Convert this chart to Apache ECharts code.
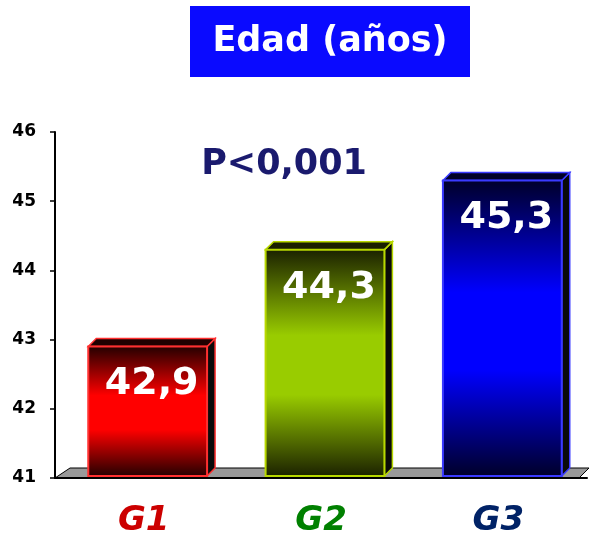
<!DOCTYPE html>
<html><head><meta charset="utf-8">
<script src="https://cdn.jsdelivr.net/npm/echarts@6/dist/echarts.min.js"></script>
<style>html,body{margin:0;padding:0;background:#fff}#c{width:596px;height:545px}</style>
</head><body><div id="c"></div>
<script>
var categories = ['G1', 'G2', 'G3'];
var values = [42.9, 44.3, 45.3];
var valueLabels = ['42,9', '44,3', '45,3'];
var yTicks = [41, 42, 43, 44, 45, 46];
var titleText = 'Edad (años)';
var pText = 'P<0,001';

var faceColors = [
  {dark: '#200000', bright: '#ff0000', edge: '#ff3030'},
  {dark: '#1a2000', bright: '#99cc00', edge: '#b8d800'},
  {dark: '#000028', bright: '#0000ff', edge: '#3a3aff'}
];
var catColors = ['#cc0000', '#008000', '#002266'];
var depth = 8;
var yMin = yTicks[0];

var chart = echarts.init(document.getElementById('c'));
var option = {
  animation: false,
  grid: {left: 55, right: 9, top: 132, bottom: 67},
  xAxis: {
    type: 'category', data: categories,
    axisLine: {show: true, lineStyle: {color: '#000', width: 2}},
    axisTick: {show: false},
    axisLabel: {
      margin: 26,
      formatter: function (v, i) { return '{c' + i + '|' + v + '}'; },
      rich: {
        c0: {color: catColors[0], fontSize: 34, fontWeight: 'bold', fontStyle: 'italic', fontFamily: 'DejaVu Sans'},
        c1: {color: catColors[1], fontSize: 34, fontWeight: 'bold', fontStyle: 'italic', fontFamily: 'DejaVu Sans'},
        c2: {color: catColors[2], fontSize: 34, fontWeight: 'bold', fontStyle: 'italic', fontFamily: 'DejaVu Sans'}
      }
    },
    z: 10
  },
  yAxis: {
    type: 'value', min: yTicks[0], max: yTicks[yTicks.length - 1], interval: 1,
    axisLine: {show: true, lineStyle: {color: '#000', width: 2}},
    axisTick: {show: true, length: 5, lineStyle: {color: '#000', width: 1.5}},
    axisLabel: {color: '#000', fontSize: 17, fontWeight: 'bold', fontFamily: 'DejaVu Sans', margin: 19},
    splitLine: {show: false}
  },
  graphic: [
    {type: 'rect', left: 190, top: 6, shape: {width: 280, height: 71}, style: {fill: '#0a0aff'}},
    {type: 'text', x: 330, y: 42, style: {text: titleText, fill: '#fff', font: 'bold 35px "DejaVu Sans"', textAlign: 'center', textVerticalAlign: 'middle'}},
    {type: 'text', x: 284, y: 165, style: {text: pText, fill: '#1a1a6e', font: 'bold 35px "DejaVu Sans"', textAlign: 'center', textVerticalAlign: 'middle'}}
  ],
  series: [
    {
      type: 'custom', z: 1, silent: true,
      data: [[0, yMin]],
      renderItem: function (params, api) {
        var cs = params.coordSys;
        var p = api.coord([0, yMin]);
        var y = p[1];
        var x0 = cs.x, x1 = cs.x + cs.width - 8;
        var d = 10;
        return {
          type: 'polygon',
          shape: {points: [[x0, y], [x1, y], [x1 + d, y - d], [x0 + d + 5, y - d]]},
          style: {fill: '#999999', stroke: '#000', lineWidth: 1}
        };
      }
    },
    {
      type: 'custom', z: 2, silent: true,
      data: values.map(function (v, i) { return [i, v]; }),
      renderItem: function (params, api) {
        var i = api.value(0);
        var base = api.coord([i, yMin]);
        var top = api.coord([i, api.value(1)]);
        var w = api.size([1, 0])[0] * 0.67;
        var xl = base[0] - w / 2 + 4, xr = xl + w;
        var yt = top[1], yb = base[1] - 2;
        var c = faceColors[i];
        var grad = new echarts.graphic.LinearGradient(0, 0, 0, 1, [
          {offset: 0, color: c.dark},
          {offset: 0.38, color: c.bright},
          {offset: 0.64, color: c.bright},
          {offset: 1, color: c.dark}
        ]);
        return {
          type: 'group',
          children: [
            {type: 'polygon', shape: {points: [[xr, yb], [xr + depth, yb - depth], [xr + depth, yt - depth], [xr, yt]]},
             style: {fill: '#0a0a0a', stroke: c.edge, lineWidth: 1.5}},
            {type: 'polygon', shape: {points: [[xl, yt], [xl + depth, yt - depth], [xr + depth, yt - depth], [xr, yt]]},
             style: {fill: c.dark, stroke: c.edge, lineWidth: 1.5}},
            {type: 'rect', shape: {x: xl, y: yt, width: w, height: yb - yt},
             style: {fill: grad, stroke: c.edge, lineWidth: 2}},
            {type: 'text', x: (xl + xr) / 2 + 4, y: yt + 38,
             style: {text: valueLabels[i], fill: '#fff', font: 'bold 38px "DejaVu Sans"', textAlign: 'center', textVerticalAlign: 'middle'}}
          ]
        };
      }
    }
  ]
};
chart.setOption(option);
</script></body></html>
